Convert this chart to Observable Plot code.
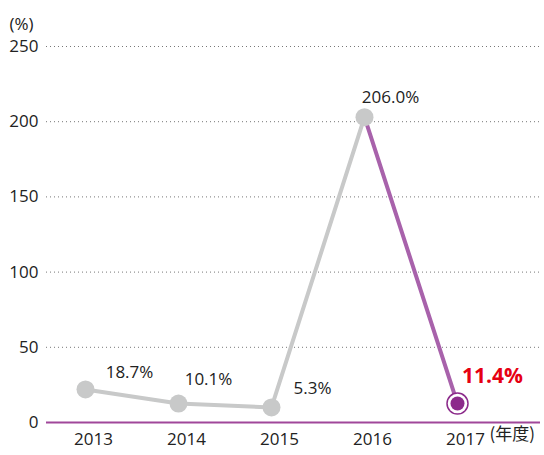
<!DOCTYPE html>
<html>
<head>
<meta charset="utf-8">
<script src="https://cdn.jsdelivr.net/npm/d3@7"></script>
<script src="https://cdn.jsdelivr.net/npm/@observablehq/plot@0.6"></script>
<style>
  html, body { margin: 0; padding: 0; background: #fff; }
  #chart svg { display: block; }
</style>
</head>
<body>
<div id="chart"></div>
<script>
// Data
const years = ["2013", "2014", "2015", "2016", "2017"];
const plotted = [22, 12.6, 10, 203, 12.6];      // positions as drawn
const labels = ["18.7%", "10.1%", "5.3%", "206.0%", "11.4%"];
const yTicks = [0, 50, 100, 150, 200, 250];

const data = years.map((y, i) => ({year: y, value: plotted[i], label: labels[i]}));
const past = data.slice(0, 4);
const recent = data.slice(3);
const last = data.slice(4);

const font = "'Open Sans', 'Noto Sans CJK JP', sans-serif";
const labelOffsets = [[44, -17], [30, -24], [41, -19], [26, -20]];

const chart = Plot.plot({
  width: 544,
  height: 455,
  marginLeft: 46,
  marginRight: 4,
  marginTop: 46,
  marginBottom: 33,
  style: {fontFamily: font, fontSize: "17px", color: "#222", background: "#fff"},
  x: {type: "point", domain: years, padding: 0.653, align: 0.32, label: null},
  y: {domain: [0, 250], label: null},
  marks: [
    Plot.ruleY(yTicks.filter(d => d > 0), {stroke: "#777", strokeDasharray: "1,3", strokeWidth: 1}),
    Plot.axisY(yTicks, {tickSize: 0, tickPadding: 8, fontSize: 17, label: null}),
    Plot.axisX({tickSize: 0, tickPadding: 10, dx: 8, fontSize: 17, label: null}),
    Plot.ruleY([0], {stroke: "#a0479a", strokeWidth: 2}),
    Plot.lineY(past, {x: "year", y: "value", stroke: "#c8c9c9", strokeWidth: 4}),
    Plot.lineY(recent, {x: "year", y: "value", stroke: "#a862ab", strokeWidth: 4}),
    Plot.dot(past, {x: "year", y: "value", r: 9, fill: "#c8c9c9"}),
    Plot.dot(last, {x: "year", y: "value", r: 10.5, fill: "#fff", stroke: "#8c2b8b", strokeWidth: 1.5}),
    Plot.dot(last, {x: "year", y: "value", r: 7, fill: "#8c2b8b"}),
    ...past.map((d, i) => Plot.text([d], {x: "year", y: "value", text: "label", dx: labelOffsets[i][0], dy: labelOffsets[i][1], fontSize: 17, fill: "#222"})),
    Plot.text(last, {x: "year", y: "value", text: "label", dx: 35, dy: -27, fontSize: 21, fontWeight: "bold", fill: "#e60012"}),
    Plot.text(["(%)"], {frameAnchor: "top-left", dx: -37, dy: -29, textAnchor: "start", fontSize: 17, fill: "#222", letterSpacing: "2px"}),
    Plot.text(last, {x: "year", frameAnchor: "bottom", text: () => "(年度)", textAnchor: "start", dx: 32, dy: 17, fontSize: 17, fontFamily: "'Noto Sans CJK JP', sans-serif", letterSpacing: "1px", fill: "#222"})
  ]
});
document.getElementById("chart").append(chart);
</script>
</body>
</html>
